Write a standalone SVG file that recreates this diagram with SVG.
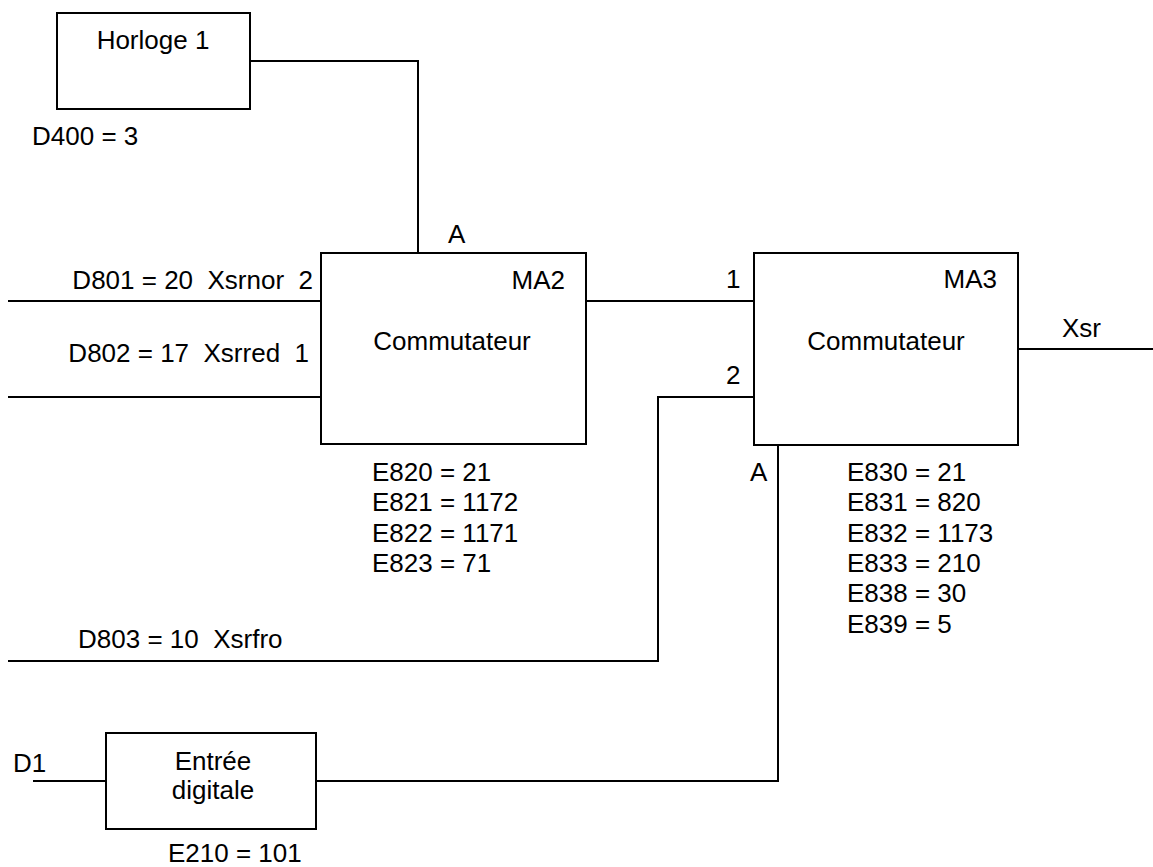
<svg xmlns="http://www.w3.org/2000/svg" width="1153" height="867" viewBox="0 0 1153 867">
<style>
.box{fill:#fff;stroke:#000;stroke-width:2}
.wire{fill:none;stroke:#000;stroke-width:2}
text{font-family:"Liberation Sans",Arial,sans-serif;font-size:26px;fill:#000}
.m{text-anchor:middle}
.e{text-anchor:end}
</style>
<rect width="1153" height="867" fill="#fff"/>
<g id="connectors">
<polyline class="wire" points="250,61 418,61 418,253"/>
<line class="wire" x1="8" y1="301" x2="321" y2="301"/>
<line class="wire" x1="8" y1="397" x2="321" y2="397"/>
<line class="wire" x1="586" y1="301" x2="754" y2="301"/>
<polyline class="wire" points="8,661 658,661 658,397 754,397"/>
<line class="wire" x1="1018" y1="349" x2="1153" y2="349"/>
<polyline class="wire" points="316,781 778,781 778,445"/>
<line class="wire" x1="33" y1="781" x2="106" y2="781"/>
</g>
<g id="horloge">
<rect class="box" x="57" y="13" width="193" height="96"/>
<text class="m" x="153" y="49">Horloge 1</text>
<text x="32" y="145">D400 = 3</text>
</g>
<g id="ma2">
<rect class="box" x="321" y="253" width="265" height="191"/>
<text class="e" x="565" y="289">MA2</text>
<text class="m" x="452" y="350">Commutateur</text>
<text x="448" y="243">A</text>
<text xml:space="preserve" class="e" x="313" y="289">D801 = 20  Xsrnor  2</text>
<text xml:space="preserve" class="e" x="309" y="362">D802 = 17  Xsrred  1</text>
<text x="372" y="481">E820 = 21</text>
<text x="372" y="511">E821 = 1172</text>
<text x="372" y="542">E822 = 1171</text>
<text x="372" y="572">E823 = 71</text>
</g>
<g id="ma3">
<rect class="box" x="754" y="253" width="264" height="192"/>
<text class="e" x="997" y="288">MA3</text>
<text class="m" x="886" y="350">Commutateur</text>
<text x="726" y="288">1</text>
<text x="726" y="384">2</text>
<text x="750" y="481">A</text>
<text x="1062" y="337">Xsr</text>
<text x="847" y="481">E830 = 21</text>
<text x="847" y="511">E831 = 820</text>
<text x="847" y="542">E832 = 1173</text>
<text x="847" y="572">E833 = 210</text>
<text x="847" y="602">E838 = 30</text>
<text x="847" y="633">E839 = 5</text>
</g>
<g id="xsrfro">
<text xml:space="preserve" x="78" y="648">D803 = 10  Xsrfro</text>
</g>
<g id="entree">
<rect class="box" x="106" y="733" width="210" height="96"/>
<text class="m" x="213" y="770">Entrée</text>
<text class="m" x="213" y="799">digitale</text>
<text x="13" y="772">D1</text>
<text x="168" y="862">E210 = 101</text>
</g>
</svg>
